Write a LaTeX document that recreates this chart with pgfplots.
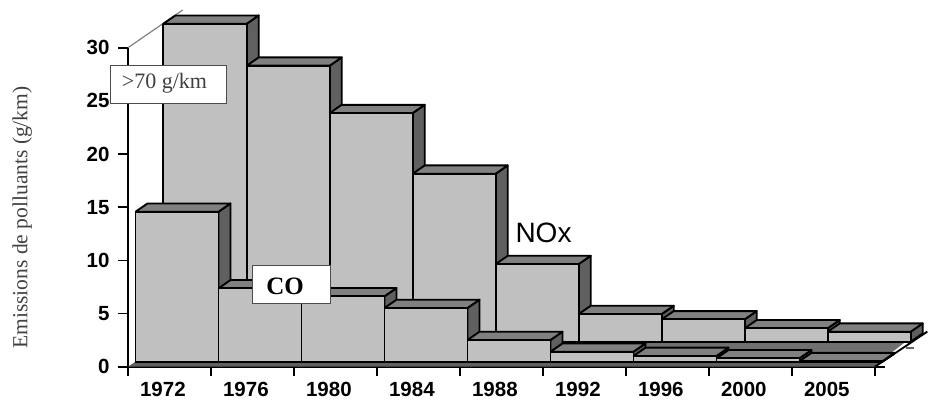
\documentclass[border=0pt]{standalone}
\usepackage{pgfplots}
\pgfplotsset{compat=1.18}
\usepackage{fontspec}
\setmainfont{Liberation Sans}
\newfontfamily\serif{Liberation Serif}
\definecolor{frontc}{HTML}{C0C0C0}
\definecolor{topc}{HTML}{808080}
\definecolor{sidec}{HTML}{606060}
% one prism: x0, x1 (category units), base, top (data units); depth dx, dy in data units
\newcommand\prism[4]{%
  \pgfmathsetmacro\xa{#1}\pgfmathsetmacro\xb{#2}%
  \pgfmathsetmacro\ya{#3}\pgfmathsetmacro\yb{#3+#4}%
  \pgfmathsetmacro\xc{\xa+0.145}\pgfmathsetmacro\xd{\xb+0.145}%
  \pgfmathsetmacro\yc{\ya+0.78}\pgfmathsetmacro\yd{\yb+0.78}%
  \addplot[draw=black,line width=1.9pt,fill=sidec,line join=round] coordinates {(\xb,\ya) (\xd,\yc) (\xd,\yd) (\xb,\yb) (\xb,\ya)};
  \addplot[draw=black,line width=1.9pt,fill=topc,line join=round] coordinates {(\xa,\yb) (\xc,\yd) (\xd,\yd) (\xb,\yb) (\xa,\yb)};
  \addplot[draw=black,line width=1.9pt,fill=frontc,line join=round] coordinates {(\xa,\ya) (\xb,\ya) (\xb,\yb) (\xa,\yb) (\xa,\ya)};
}
\begin{document}
\begin{tikzpicture}[x=1pt,y=1pt]
\useasboundingbox (0,0) rectangle (929,405);
\begin{axis}[
  at={(128pt,38.3pt)},anchor=south west,
  scale only axis,width=747pt,height=319pt,
  xmin=0,xmax=9,ymin=0,ymax=30,clip=false,
  axis x line*=bottom,axis y line*=left,
  axis line style={line width=1.9pt,black,-},
  xtick={0.42,1.42,2.42,3.42,4.42,5.42,6.42,7.42,8.42},
  xticklabels={1972,1976,1980,1984,1988,1992,1996,2000,2005},
  minor xtick={0,1,2,3,4,5,6,7,8,9},
  ytick={0,5,10,15,20,25,30},
  major x tick style={draw=none},
  minor x tick style={line width=1.7pt,black},
  y tick style={line width=1.7pt,black},
  tick align=outside,
  major tick length=10pt,minor tick length=9pt,
  tick label style={font=\fontsize{20.5}{22}\selectfont\bfseries},
  /pgf/number format/assume math mode=true,
  xticklabel style={yshift=-2pt},
  yticklabel style={xshift=-5pt},
  ylabel={\serif Emissions de polluants (g/km)},
  ylabel style={at={(axis cs:-1.275,14.03)},rotate=0,anchor=center,font=\fontsize{21.5}{23}\selectfont,color=black!75},
]
% walls
\addplot[draw=gray,line width=1.2pt] coordinates {(0,30) (0.0,30) (0.66,33.55)};
% floor
\addplot[draw=none,fill=sidec!90!white] coordinates {(1,2.35) (9.37,2.35) (9.07,0.55) (1,0.55) (1,2.35)};
\addplot[draw=none,fill=sidec] coordinates {(0,0) (0.09,0.47) (9.09,0.47) (9,0) (0,0)};
\addplot[draw=black,line width=1.9pt] coordinates {(9,0) (9.63,3.3)};
\addplot[draw=black,line width=1.9pt] coordinates {(9,0) (9.12,0)};
\addplot[draw=black!60,line width=1.2pt] coordinates {(9.37,1.75) (9.47,1.75)};
% NOx
\prism{0.4257}{1.43}{2.35}{29.9}
\prism{1.43}{2.43}{2.35}{25.96}
\prism{2.43}{3.43}{2.35}{21.5}
\prism{3.43}{4.43}{2.35}{15.8}
\prism{4.43}{5.43}{2.35}{7.3}
\prism{5.43}{6.43}{2.35}{2.6}
\prism{6.43}{7.43}{2.35}{2.1}
\prism{7.43}{8.43}{2.35}{1.26}
\prism{8.43}{9.43}{2.35}{0.94}
% CO
\prism{0.09}{1.09}{0.47}{14.1}
\prism{1.09}{2.09}{0.47}{6.9}
\prism{2.09}{3.09}{0.47}{6.15}
\prism{3.09}{4.09}{0.47}{5.05}
\prism{4.09}{5.09}{0.47}{2.04}
\prism{5.09}{6.09}{0.47}{0.94}
\prism{6.09}{7.09}{0.47}{0.54}
\prism{7.09}{8.09}{0.47}{0.32}
\prism{8.09}{9.09}{0.47}{0.05}
\end{axis}
\node[draw=black!70,fill=white,line width=0.8pt,minimum width=116pt,minimum height=38pt,inner sep=0pt] at (168,321) {};
\node[text=black!75,font=\serif\fontsize{22}{24}\selectfont] at (164.5,322) {>70 g/km};
\node[draw=black!70,fill=white,line width=0.8pt,minimum width=78pt,minimum height=38pt,inner sep=0pt] at (291.5,121) {};
\node[font=\serif\bfseries\fontsize{25}{27}\selectfont] at (285,118.5) {CO};
\node[font=\fontsize{28}{30}\selectfont,anchor=center] at (543.5,172) {NOx};
\end{tikzpicture}
\end{document}
